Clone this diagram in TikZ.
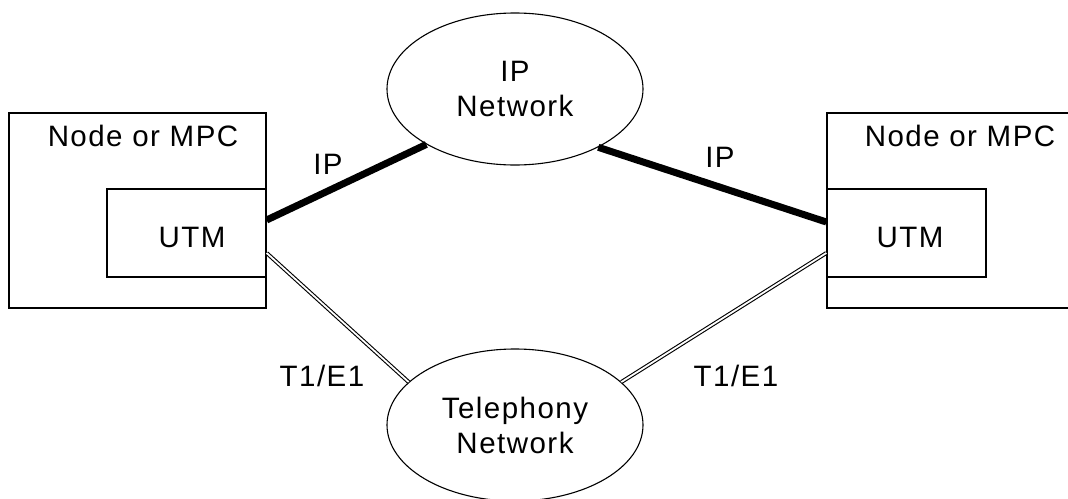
\documentclass[tikz,border=0pt]{standalone}
\usepackage{fontspec}
\setmainfont{Liberation Sans}[LetterSpace=5]
\usetikzlibrary{shapes.geometric}
\begin{document}
\begin{tikzpicture}[x=1pt,y=-1pt,
  txt/.style={font=\fontsize{29.5}{35}\selectfont},
  outerbox/.style={draw,line width=1.3pt,minimum width=257pt,minimum height=195pt,inner sep=0pt},
  utmbox/.style={draw,line width=1.3pt,minimum width=159pt,minimum height=88pt,inner sep=0pt},
  net/.style={draw,ellipse,line width=1.1pt,minimum width=256pt,minimum height=152pt,inner sep=0pt,align=center,txt},
  lbl/.style={txt,anchor=base,inner sep=0pt},
  iplink/.style={line width=7pt},
  tlink/.style={double,line width=1.1pt,double distance=1.8pt}]
\clip (0,0) rectangle (1068,498);
% boxes
\node[outerbox] (lnode) at (137.5,210.5) {};
\node[utmbox] (lutm) at (186.5,233) {};
\node[outerbox] (rnode) at (955.5,210.5) {};
\node[utmbox] (rutm) at (906.5,233) {};
% box texts
\node[lbl] (lnodet) at (143,146) {Node or MPC};
\node[lbl] (rnodet) at (960,146) {Node or MPC};
\node[lbl] (lutmt) at (192,247) {UTM};
\node[lbl] (rutmt) at (910,247) {UTM};
% networks
\node[net] (ipnet) at (515,89) {IP\\Network};
\node[net] (telnet) at (515,425) {Telephony\\Network};
% anchor points on boxes
\coordinate (lip) at ([yshift=13pt]lutm.east);
\coordinate (rip) at ([yshift=11pt]rutm.west);
\coordinate (lt) at ([yshift=-20pt]lutm.east);
\coordinate (rt) at ([yshift=-20pt]rutm.west);
% links
\draw[iplink] (lip) -- (ipnet.212);
\draw[iplink] (rip) -- (ipnet.-35);
\draw[tlink] (lt) -- (telnet.158);
\draw[tlink] (rt) -- (telnet.22);
% link labels
\node[lbl] (lipt) at (328,174) {IP};
\node[lbl] (ript) at (720,167) {IP};
\node[lbl] (ltt) at (322,386) {T1/E1};
\node[lbl] (rtt) at (736,386) {T1/E1};
\end{tikzpicture}
\end{document}
